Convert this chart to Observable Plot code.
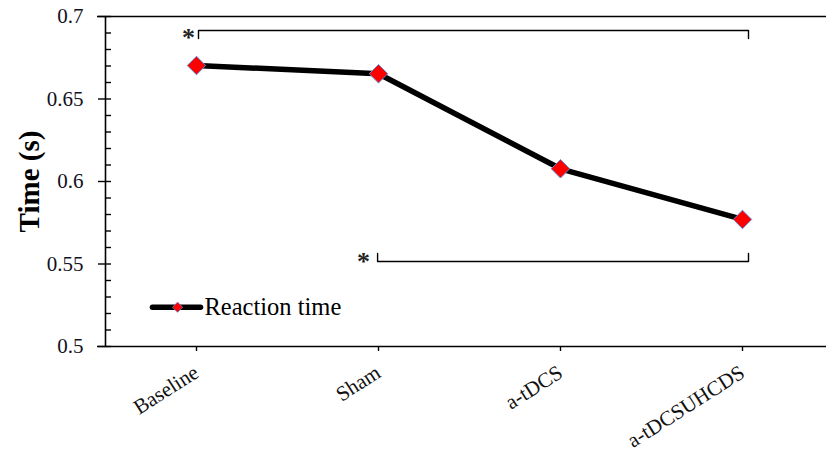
<!DOCTYPE html>
<html>
<head>
<meta charset="utf-8">
<script src="https://cdn.jsdelivr.net/npm/d3@7"></script>
<script src="https://cdn.jsdelivr.net/npm/@observablehq/plot@0.6"></script>
<style>
  html, body { margin: 0; padding: 0; background: #fff; }
  svg text { font-family: "Liberation Serif", "Times New Roman", serif; }
</style>
</head>
<body>
<div id="chart"></div>
<script>
// ---- data ----
const categories = ["Baseline", "Sham", "a-tDCS", "a-tDCSUHCDS"];
const reactionTime = [0.6703, 0.6653, 0.6077, 0.5770];
const seriesName = "Reaction time";
const yTicks = [0.5, 0.55, 0.6, 0.65, 0.7];
const yTickLabels = ["0.5", "0.55", "0.6", "0.65", "0.7"];
const yMinorTicks = [0.51,0.52,0.53,0.54,0.56,0.57,0.58,0.59,0.61,0.62,0.63,0.64,0.66,0.67,0.68,0.69];
const yLabel = "Time (s)";
// significance brackets: category index span and level
const bracketFrom = [0.011, 0.995];
const bracketTo = [3.033, 3.033];
const bracketLevel = [0.6915, 0.5515];
const bracketEnd = [0.6867, 0.5564];
const bracketMark = ["*", "*"];
const starX = [-0.044, 0.918];
const starY = [0.6885, 0.5527];

// ---- derived tables ----
const rows = categories.map((c, i) => ({i, c, v: reactionTime[i]}));
const bracketPts = [];
bracketFrom.forEach((f, k) => {
  const t = bracketTo[k], y = bracketLevel[k], e = bracketEnd[k];
  bracketPts.push({k, x: f, y: e}, {k, x: f, y}, {k, x: t, y}, {k, x: t, y: e});
});
const stars = bracketMark.map((t, k) => ({x: starX[k], y: starY[k], t}));

// legend placement (in chart coordinates)
const legendY = 0.5238;
const legendLine = [{x: -0.242, y: legendY}, {x: 0.022, y: legendY}];

const serif = "'Liberation Serif', 'Times New Roman', serif";

const chart = Plot.plot({
  width: 826,
  height: 457,
  marginLeft: 105,
  marginRight: 0,
  marginTop: 16,
  marginBottom: 111,
  style: {fontFamily: serif, background: "#fff", color: "#000"},
  x: {type: "linear", domain: [-0.5, 3.5], range: [105, 833], axis: null},
  y: {type: "linear", domain: [0.5, 0.7], range: [346, 16], axis: null},
  marks: [
    // frame lines
    Plot.ruleY([0.5, 0.7], {stroke: "#000", strokeWidth: 1.6, insetLeft: -8}),
    Plot.ruleX([-0.5], {y1: 0.5, y2: 0.7, stroke: "#000", strokeWidth: 1.6}),
    // y axis
    Plot.axisY(yTicks, {anchor: "left", tickSize: 13, dx: 6, tickFormat: () => "", label: null, strokeWidth: 1.4}),
    Plot.axisY(yMinorTicks, {anchor: "left", tickSize: 6, dx: 6, tickFormat: () => "", label: null, strokeWidth: 1.4}),
    Plot.axisY(yTicks, {anchor: "left", tickSize: 0, tickPadding: 22, fontFamily: serif,
      tickFormat: d => yTickLabels[yTicks.indexOf(d)], fontSize: 21, label: null, fill: "#111122"}),
    // x axis
    Plot.axisX([0, 1, 2, 3], {anchor: "bottom", tickSize: 5, tickPadding: 19, tickRotate: -32.5, fontFamily: serif,
      tickFormat: i => categories[i], fontSize: 21, label: null, strokeWidth: 1.4, fill: "#111"}),
    // y label
    Plot.text([yLabel], {frameAnchor: "left", text: d => d, rotate: -90, dx: -76, textAnchor: "middle",
      fontFamily: serif, fontSize: 29, fontWeight: "bold", fill: "#000"}),
    // series line
    Plot.line(rows, {x: "i", y: "v", stroke: "#000", strokeWidth: 5.5, curve: "linear", strokeLinecap: "round", strokeLinejoin: "round"}),
    Plot.dot(rows, {x: "i", y: "v", symbol: "diamond2", r: 8.3, fill: "#ff0000", stroke: "#5b8bd0", strokeWidth: 1}),
    // significance brackets
    Plot.line(bracketPts, {x: "x", y: "y", z: "k", stroke: "#000", strokeWidth: 1.4}),
    Plot.text(stars, {x: "x", y: "y", text: "t", textAnchor: "middle", dy: 2, fontFamily: serif,
      fontSize: 26, fontWeight: "bold", fill: "#222"}),
    // legend
    Plot.line(legendLine, {x: "x", y: "y", stroke: "#000", strokeWidth: 5.5, strokeLinecap: "round"}),
    Plot.dot([{x: -0.104, y: legendY}], {x: "x", y: "y", symbol: "diamond2", r: 4.6, fill: "#ff0000", stroke: "#5b8bd0", strokeWidth: 0.8}),
    Plot.text([seriesName], {x: () => 0.044, y: () => legendY, text: d => d, textAnchor: "start",
      fontFamily: serif, fontSize: 24.5, fill: "#000"})
  ]
});
document.getElementById("chart").appendChild(chart);
</script>
</body>
</html>
